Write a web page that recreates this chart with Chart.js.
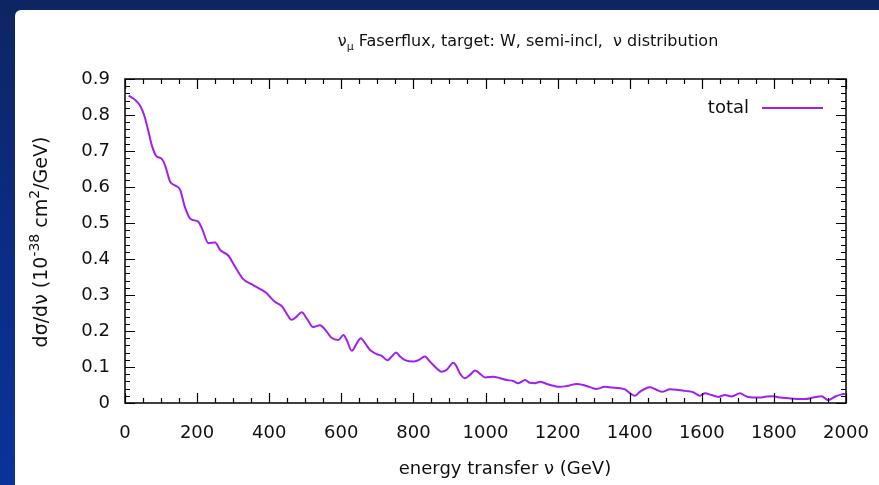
<!DOCTYPE html>
<html>
<head>
<meta charset="utf-8">
<script src="https://cdn.jsdelivr.net/npm/chart.js@4.4.1/dist/chart.umd.min.js"></script>
<style>
  html, body { margin: 0; padding: 0; }
  body {
    width: 879px; height: 485px; overflow: hidden; position: relative;
    background: linear-gradient(180deg, #0e2563 0%, #0c2c84 50%, #0a3399 100%);
  }
  #panel {
    position: absolute; left: 15px; top: 10px; right: 0; bottom: 0;
    background: #fff; border-top-left-radius: 6px;
  }
  #nuChart { position: absolute; left: 0; top: 0; }
</style>
</head>
<body>
<div id="panel"></div>
<canvas id="nuChart" width="879" height="485"></canvas>
<script>
// energy transfer nu (GeV) and dsigma/dnu values
const nuValues = [
  10, 28, 42, 53, 65, 74, 86, 102, 111, 125, 139, 153, 166, 182, 203, 215,
  231, 250, 264, 287, 305, 328, 351, 374, 393, 402, 416, 435, 448, 462, 476,
  490, 504, 522, 541, 555, 573, 592, 606, 615, 629, 643, 654, 666, 680, 698,
  712, 728, 740, 752, 763, 777, 800, 814, 832, 846, 865, 878, 892, 911, 920,
  929, 943, 957, 971, 985, 999, 1022, 1040, 1059, 1077, 1091, 1110, 1123, 1137,
  1151, 1170, 1188, 1207, 1225, 1253, 1271, 1290, 1308, 1331, 1350, 1373, 1387,
  1401, 1415, 1428, 1456, 1470, 1489, 1512, 1535, 1558, 1576, 1595, 1609, 1627,
  1646, 1664, 1683, 1706, 1724, 1743, 1761, 1780, 1798, 1817, 1840, 1863, 1886,
  1909, 1932, 1951, 1970, 1988, 1997
];
const totalValues = [
  0.854, 0.842, 0.826, 0.800, 0.754, 0.717, 0.687, 0.678, 0.661, 0.615, 0.604,
  0.592, 0.545, 0.511, 0.504, 0.481, 0.444, 0.446, 0.425, 0.409, 0.379, 0.344,
  0.330, 0.317, 0.305, 0.295, 0.281, 0.269, 0.249, 0.231, 0.240, 0.252, 0.235,
  0.211, 0.216, 0.204, 0.181, 0.175, 0.189, 0.175, 0.145, 0.166, 0.180, 0.166,
  0.147, 0.136, 0.131, 0.119, 0.129, 0.140, 0.129, 0.119, 0.115, 0.119, 0.129,
  0.115, 0.096, 0.087, 0.092, 0.112, 0.101, 0.082, 0.069, 0.078, 0.090, 0.081,
  0.071, 0.073, 0.069, 0.064, 0.061, 0.055, 0.064, 0.056, 0.055, 0.059, 0.053,
  0.048, 0.045, 0.047, 0.053, 0.050, 0.044, 0.039, 0.045, 0.043, 0.041, 0.038,
  0.027, 0.020, 0.031, 0.044, 0.039, 0.031, 0.038, 0.036, 0.033, 0.030, 0.020,
  0.027, 0.022, 0.017, 0.022, 0.018, 0.027, 0.018, 0.015, 0.015, 0.018, 0.019,
  0.015, 0.013, 0.011, 0.011, 0.015, 0.019, 0.008, 0.018, 0.024, 0.025
];
const seriesLabel = 'total';
const xTickStep = 200;
const yTickStep = 0.1;

const FONT = '"DejaVu Sans", Verdana, sans-serif';
const LINE_COLOR = '#a020f0';

// gnuplot style frame, inward ticks, titles and legend
const framePlugin = {
  id: 'frame',
  afterDraw(chart) {
    const { ctx, chartArea: a, scales } = chart;
    const xs = scales.x, ys = scales.y;
    ctx.save();
    ctx.strokeStyle = '#000';
    ctx.lineWidth = 1.5;
    ctx.strokeRect(a.left, a.top, a.right - a.left, a.bottom - a.top);

    ctx.lineWidth = 1.2;
    ctx.beginPath();
    for (let v = 0; v <= 2000 + 1e-6; v += 50) {
      const px = Math.round(xs.getPixelForValue(v)) + 0.5;
      const len = (v % xTickStep === 0) ? 10 : 5;
      ctx.moveTo(px, a.bottom); ctx.lineTo(px, a.bottom - len);
      ctx.moveTo(px, a.top); ctx.lineTo(px, a.top + len);
    }
    for (let i = 0; i <= 45; i++) {
      const v = i * 0.02;
      const py = Math.round(ys.getPixelForValue(v)) + 0.5;
      const len = (i % 5 === 0) ? 10 : 5;
      ctx.moveTo(a.left, py); ctx.lineTo(a.left + len, py);
      ctx.moveTo(a.right, py); ctx.lineTo(a.right - len, py);
    }
    ctx.stroke();

    ctx.fillStyle = '#111';
    ctx.textBaseline = 'alphabetic';

    // title: nu_mu Faserflux ...
    const tSize = 16;
    const rest = ' Faserflux, target: W, semi-incl,  \u03bd distribution';
    ctx.font = tSize + 'px ' + FONT;
    const wNu = ctx.measureText('\u03bd').width;
    const wRest = ctx.measureText(rest).width;
    ctx.font = '11px ' + FONT;
    const wMu = ctx.measureText('\u03bc').width;
    let tx = 528 - (wNu + wMu + wRest) / 2;
    const ty = 46;
    ctx.font = tSize + 'px ' + FONT;
    ctx.fillText('\u03bd', tx, ty); tx += wNu;
    ctx.font = '11px ' + FONT;
    ctx.fillText('\u03bc', tx, ty + 4); tx += wMu;
    ctx.font = tSize + 'px ' + FONT;
    ctx.fillText(rest, tx, ty);

    // x axis title
    ctx.font = '18px ' + FONT;
    ctx.textAlign = 'center';
    ctx.fillText('energy transfer \u03bd (GeV)', 505, 474);

    // y axis title with superscripts
    const parts = [
      ['d\u03c3/d\u03bd (10', 0],
      ['-38', 1],
      [' cm', 0],
      ['2', 1],
      ['/GeV)', 0]
    ];
    const big = '19px ' + FONT, small = '14px ' + FONT;
    let total = 0;
    parts.forEach(([s, sup]) => { ctx.font = sup ? small : big; total += ctx.measureText(s).width; });
    ctx.translate(47, 242);
    ctx.rotate(-Math.PI / 2);
    ctx.textAlign = 'left';
    let yx = -total / 2;
    parts.forEach(([s, sup]) => {
      ctx.font = sup ? small : big;
      ctx.fillText(s, yx, sup ? -8 : 0);
      yx += ctx.measureText(s).width;
    });
    ctx.setTransform(1, 0, 0, 1, 0, 0);

    // legend
    ctx.font = '18px ' + FONT;
    ctx.textAlign = 'right';
    ctx.textBaseline = 'middle';
    ctx.fillText(chart.data.datasets[0].label, 749, 108);
    ctx.strokeStyle = chart.data.datasets[0].borderColor;
    ctx.lineWidth = 2;
    ctx.beginPath();
    ctx.moveTo(762, 108); ctx.lineTo(823, 108);
    ctx.stroke();
    ctx.restore();
  }
};

const ctx = document.getElementById('nuChart').getContext('2d');
new Chart(ctx, {
  type: 'line',
  data: {
    datasets: [{
      label: seriesLabel,
      data: nuValues.map((x, i) => ({ x: x, y: totalValues[i] })),
      borderColor: LINE_COLOR,
      borderWidth: 2,
      pointRadius: 0,
      fill: false,
      cubicInterpolationMode: 'monotone',
    }],
  },
  options: {
    responsive: false,
    animation: false,
    layout: { padding: { top: 79, right: 33, left: 0, bottom: 0 } },
    plugins: {
      legend: { display: false },
      tooltip: { enabled: false },
    },
    scales: {
      x: {
        type: 'linear',
        min: 0,
        max: 2000,
        grid: { display: false, drawTicks: false, tickLength: 0 },
        border: { display: false },
        ticks: {
          stepSize: xTickStep,
          padding: 20,
          color: '#111',
          font: { family: FONT, size: 18 },
          maxRotation: 0,
          callback: (v) => String(v),
        },
        afterFit(scale) {
          scale.height = 82;
          scale.paddingLeft = 0;
          scale.paddingRight = 0;
        },
      },
      y: {
        min: 0,
        max: 0.9,
        grid: { display: false, drawTicks: false, tickLength: 0 },
        border: { display: false },
        ticks: {
          stepSize: yTickStep,
          padding: 15,
          color: '#111',
          font: { family: FONT, size: 18 },
          callback: (v) => String(Math.round(v * 10) / 10),
        },
        afterFit(scale) {
          scale.width = 125;
          scale.paddingTop = 0;
          scale.paddingBottom = 0;
        },
      },
    },
  },
  plugins: [framePlugin],
});
</script>
</body>
</html>
